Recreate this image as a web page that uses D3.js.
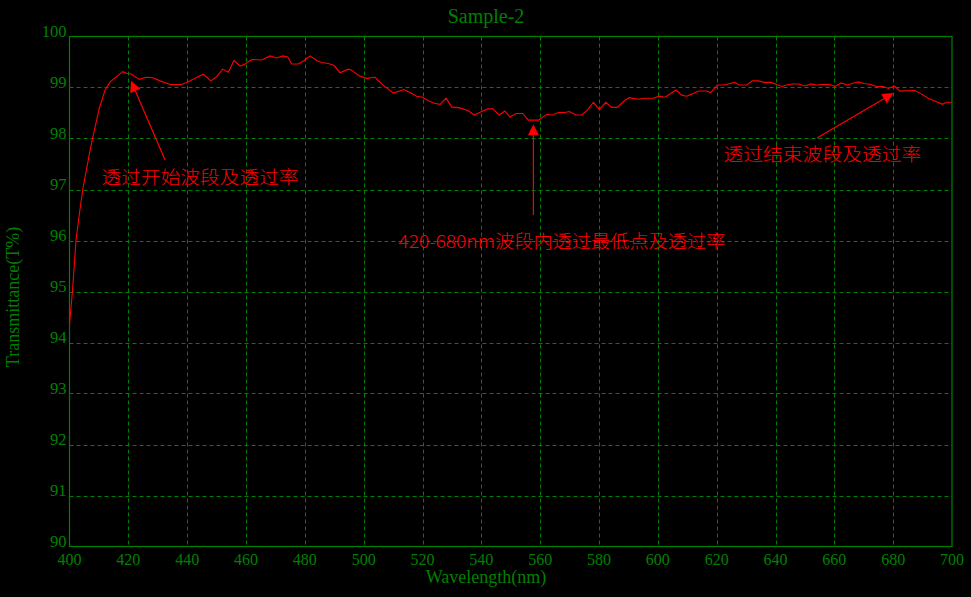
<!DOCTYPE html>
<html>
<head>
<meta charset="utf-8">
<script src="https://cdn.jsdelivr.net/npm/d3@7"></script>
<style>
html,body{margin:0;padding:0;background:#000;}
svg{display:block;}
</style>
</head>
<body>
<svg id="chart" width="971" height="597"></svg>
<script>
const titleText = "Sample-2";
const xLabel = "Wavelength(nm)";
const yLabel = "Transmittance(T%)";
const xTicks = [400,420,440,460,480,500,520,540,560,580,600,620,640,660,680,700];
const yTicks = [90,91,92,93,94,95,96,97,98,99,100];

const wavelength = [400,401,402.2,403.3,404.5,405.8,407,408.1,410.1,412.1,413.8,415.5,418.1,419.4,421.1,423.7,426,428.3,430.8,434.2,438.1,439.8,442.7,445.5,448,449.8,452.1,454,455.9,458,459.7,461.9,465.3,468.2,470.4,472.5,474.2,475.5,477.8,479.8,481.8,484,485.7,488,490,491.9,494.8,495.9,498.4,501,503.9,506.1,510.1,513.7,515.7,518,520,522,524,526,528,529.9,532.7,535.4,537.6,540.1,542.2,543.9,546.1,548,549.7,551.8,554.1,556,559.4,562.2,564.3,566.2,568.4,569.9,572.2,574.1,576,578.1,580.1,582.3,584.3,586.2,588.8,590.3,593.4,595.6,598.5,600.5,602.4,606.2,608.1,609.8,611.5,613.8,616.4,618,620.2,622.6,624.5,626.2,627.6,630.2,632.1,634.2,636.2,638.5,640.4,642.1,643.8,645.7,647.7,650,652.1,654,655.9,658.5,660.2,662.3,664.4,666.1,668.1,670.2,672.5,674.4,676.6,678.4,680.4,682.3,687.4,689.1,691.9,694.8,696.7,698.2,700];
const transmittance = [94.35,95.0,96.0,96.5,97.0,97.4,97.77,98.07,98.59,98.95,99.11,99.19,99.31,99.28,99.26,99.16,99.2,99.19,99.13,99.06,99.06,99.1,99.18,99.26,99.13,99.2,99.36,99.3,99.53,99.42,99.46,99.55,99.54,99.62,99.58,99.62,99.6,99.46,99.46,99.53,99.62,99.53,99.49,99.47,99.43,99.29,99.36,99.34,99.23,99.18,99.2,99.07,98.89,98.96,98.9,98.83,98.81,98.74,98.69,98.67,98.79,98.62,98.6,98.55,98.46,98.53,98.58,98.58,98.46,98.54,98.42,98.49,98.49,98.36,98.36,98.47,98.46,98.51,98.51,98.53,98.46,98.46,98.55,98.71,98.57,98.71,98.61,98.61,98.75,98.8,98.77,98.79,98.79,98.83,98.81,98.95,98.85,98.83,98.87,98.93,98.93,98.9,99.05,99.05,99.08,99.1,99.05,99.05,99.13,99.13,99.1,99.1,99.06,99.02,99.05,99.07,99.07,99.03,99.07,99.05,99.06,99.06,99.02,99.09,99.05,99.08,99.11,99.08,99.06,99.02,99.02,98.98,99.03,98.93,98.94,98.89,98.79,98.72,98.67,98.71,98.71];

// annotations (data coordinates)
const noteTexts = ["透过开始波段及透过率","420-680nm波段内透过最低点及透过率","透过结束波段及透过率"];
const noteTextPos = [[410.9,97.11],[511.8,95.85],[622.3,97.56]];
const noteTextWidth = [197,327,198];
const arrowTail = [[432.5,97.58],[557.7,96.5],[654.1,98.01]];
const arrowTip = [[420.9,99.13],[557.7,98.28],[680.1,98.89]];

const green = "#008000";
const red = "#ff0000";
const svg = d3.select("#chart");
const W = 971, H = 597;
const m = {left:69.5, right:952, top:36.5, bottom:546.5};

const x = d3.scaleLinear().domain([400,700]).range([m.left, m.right]);
const y = d3.scaleLinear().domain([90,100]).range([m.bottom, m.top]);

svg.append("rect").attr("width",W).attr("height",H).attr("fill","#000");

// grid
const g = svg.append("g");
g.selectAll(".vg").data(xTicks.slice(1,-1)).enter().append("line")
  .attr("x1",d=>Math.round(x(d))+0.5).attr("x2",d=>Math.round(x(d))+0.5)
  .attr("y1",m.top).attr("y2",m.bottom)
  .attr("stroke",green).attr("stroke-width",1).attr("stroke-dasharray","4,3");
g.selectAll(".hg").data(yTicks.slice(1,-1)).enter().append("line")
  .attr("y1",d=>Math.round(y(d))+0.5).attr("y2",d=>Math.round(y(d))+0.5)
  .attr("x1",m.left).attr("x2",m.right)
  .attr("stroke",green).attr("stroke-width",1).attr("stroke-dasharray","4,3");

// frame
svg.append("rect").attr("x",m.left).attr("y",m.top)
  .attr("width",m.right-m.left).attr("height",m.bottom-m.top)
  .attr("fill","none").attr("stroke",green).attr("stroke-width",1.2);

// tick labels
const font = "'Liberation Serif','Times New Roman',serif";
svg.selectAll(".xt").data(xTicks).enter().append("text")
  .attr("x",d=>x(d)).attr("y",565).attr("text-anchor","middle")
  .attr("font-family",font).attr("font-size",16).attr("fill",green).text(d=>d);
svg.selectAll(".yt").data(yTicks).enter().append("text")
  .attr("x",66.5).attr("y",d=>y(d)).attr("text-anchor","end")
  .attr("font-family",font).attr("font-size",16.5).attr("fill",green).text(d=>d);

// titles
svg.append("text").attr("x",486).attr("y",23).attr("text-anchor","middle")
  .attr("font-family",font).attr("font-size",20).attr("fill",green).text(titleText);
svg.append("text").attr("x",486).attr("y",583).attr("text-anchor","middle")
  .attr("font-family",font).attr("font-size",18).attr("fill",green).text(xLabel);
svg.append("text").attr("transform","translate(19,297) rotate(-90)").attr("text-anchor","middle")
  .attr("font-family",font).attr("font-size",18).attr("fill",green).text(yLabel);

// curve
const pts = wavelength.map((w,i)=>[w,transmittance[i]]);
const line = d3.line().x(d=>x(d[0])).y(d=>y(d[1]));
svg.append("path").datum(pts).attr("d",line)
  .attr("fill","none").attr("stroke",red).attr("stroke-width",1.1);

// annotations
const cjk = "'Noto Sans CJK SC','Noto Sans CJK JP',sans-serif";
noteTexts.forEach((t,i)=>{
  svg.append("text").attr("x",x(noteTextPos[i][0])).attr("y",y(noteTextPos[i][1]))
    .attr("font-family",cjk).attr("font-size",18).attr("font-weight",300).attr("fill",red)
    .attr("textLength",noteTextWidth[i]).attr("lengthAdjust","spacingAndGlyphs").text(t);
  const tx = x(arrowTail[i][0]), ty = y(arrowTail[i][1]);
  const px = x(arrowTip[i][0]), py = y(arrowTip[i][1]);
  const ang = Math.atan2(py-ty, px-tx);
  const L = 11, hw = 5.5;
  const bx = px - L*Math.cos(ang), by = py - L*Math.sin(ang);
  svg.append("line").attr("x1",tx).attr("y1",ty).attr("x2",bx).attr("y2",by)
    .attr("stroke",red).attr("stroke-width",1.2);
  const p1 = [bx + hw*Math.sin(ang), by - hw*Math.cos(ang)];
  const p2 = [bx - hw*Math.sin(ang), by + hw*Math.cos(ang)];
  svg.append("path").attr("d",`M${px},${py}L${p1[0]},${p1[1]}L${p2[0]},${p2[1]}Z`)
    .attr("fill",red);
});
</script>
</body>
</html>
